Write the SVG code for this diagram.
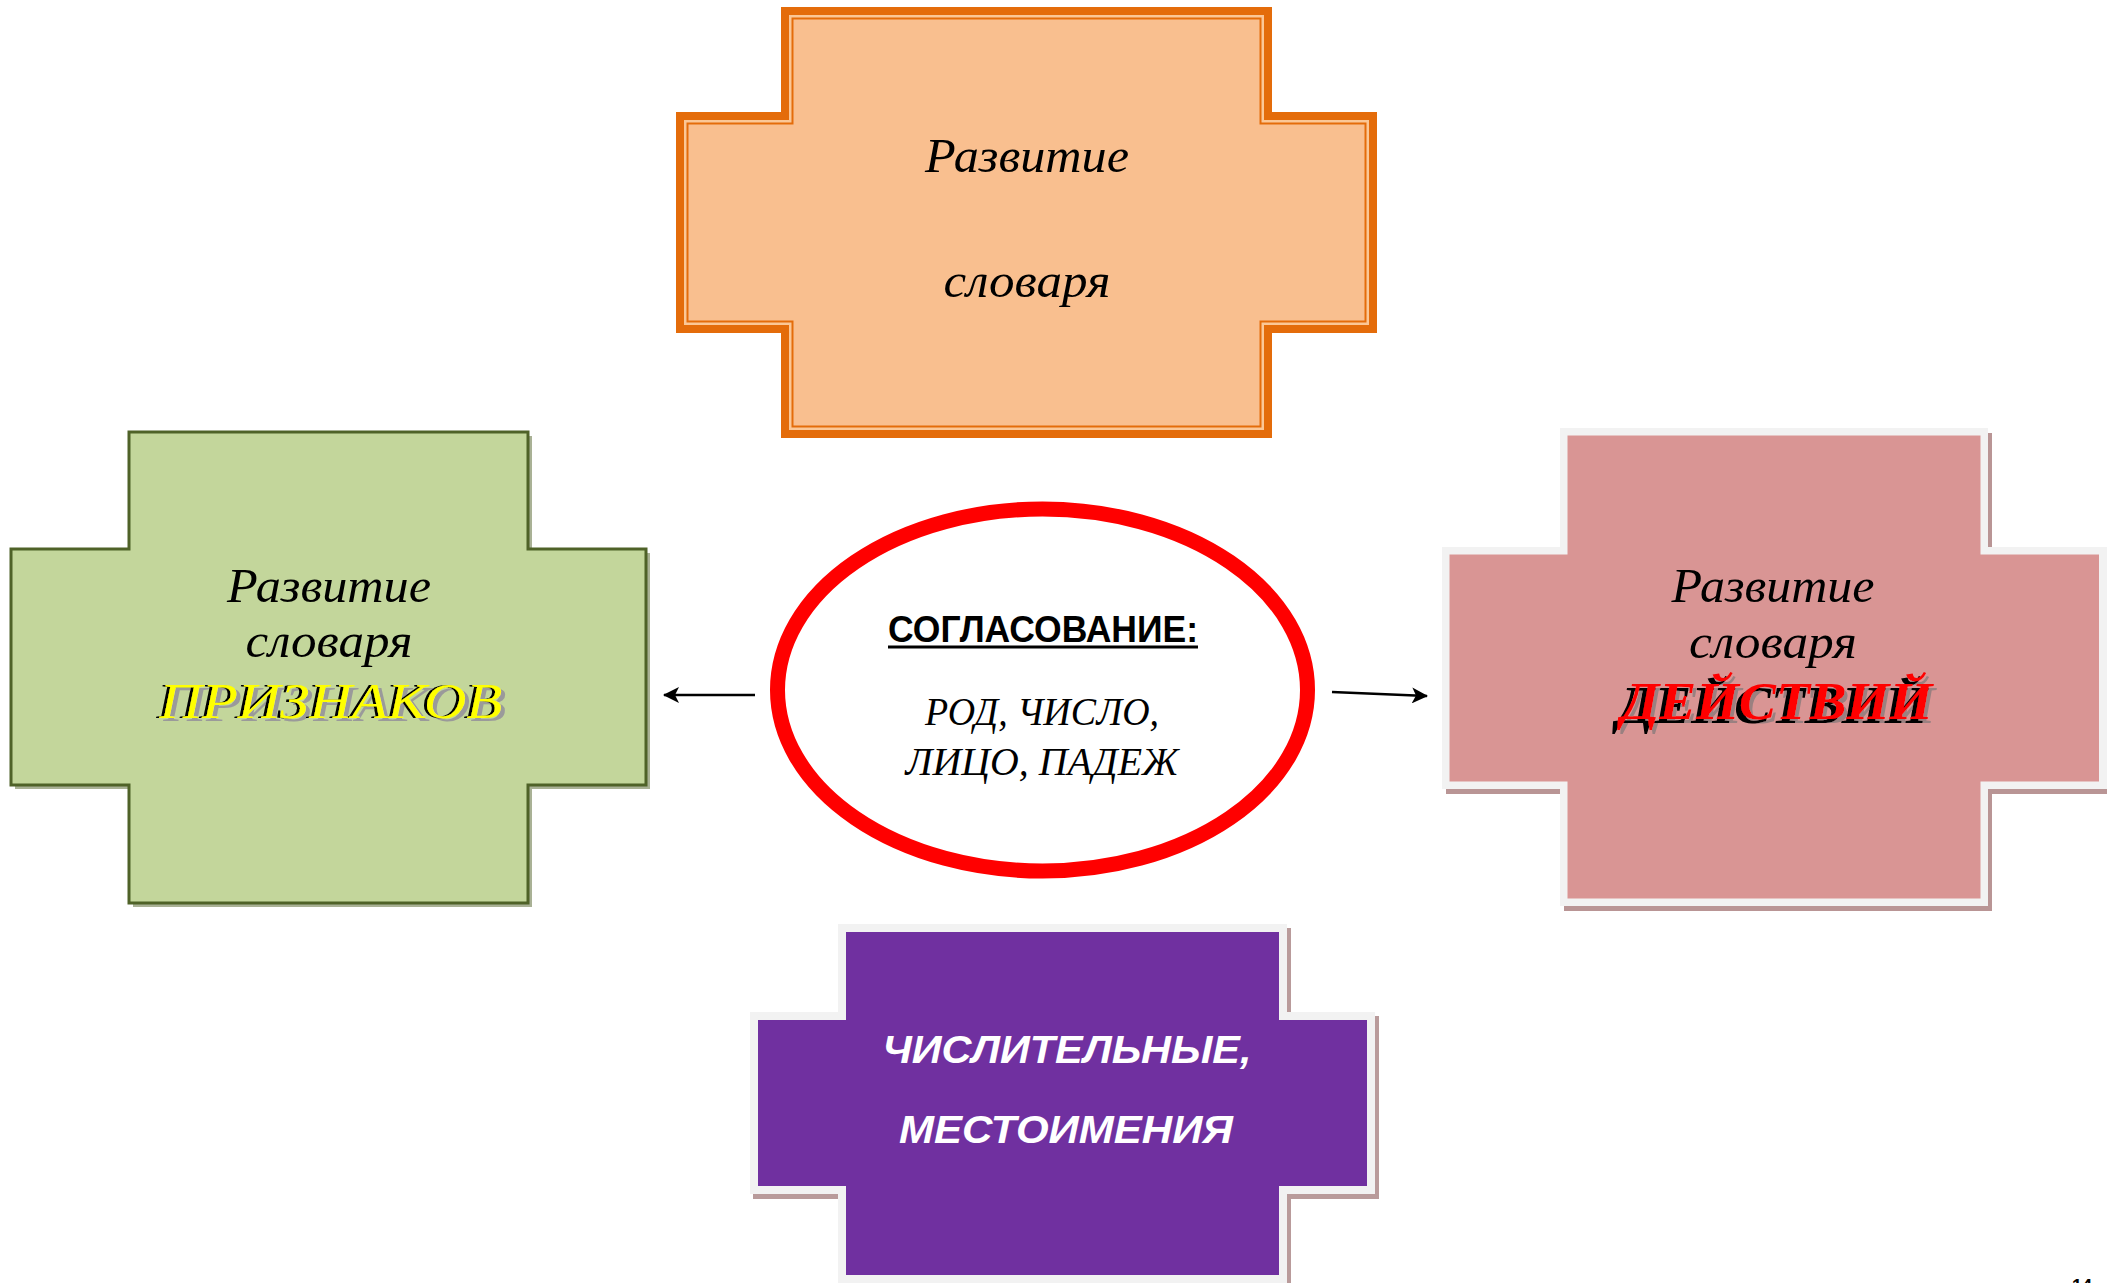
<svg xmlns="http://www.w3.org/2000/svg" width="2107" height="1283" viewBox="0 0 2107 1283">
<style>
.ser{font-family:"Liberation Serif","Times New Roman",serif;font-style:italic;text-anchor:middle}
.lbl{font-size:48px;fill:#000}
.sans{font-family:"Liberation Sans",Arial,sans-serif;text-anchor:middle}
.conn{stroke:#000;stroke-width:2.5;fill:none}
</style>
<defs>
<marker id="ah" viewBox="0 0 16 16" refX="15" refY="8" markerWidth="16" markerHeight="16" markerUnits="userSpaceOnUse" orient="auto">
<path d="M0,0 L16,8 L0,16 L4,8 Z" fill="#000"/>
</marker>
<filter id="fxY" x="-10%" y="-30%" width="120%" height="160%">
<feOffset in="SourceAlpha" dx="4" dy="3" result="o1"/>
<feFlood flood-color="#9A9A9A"/>
<feComposite in2="o1" operator="in" result="gray"/>
<feOffset in="SourceAlpha" dx="-3" dy="0" result="o2"/>
<feFlood flood-color="#000"/>
<feComposite in2="o2" operator="in" result="blk"/>
<feMerge><feMergeNode in="gray"/><feMergeNode in="blk"/><feMergeNode in="SourceGraphic"/></feMerge>
</filter>
<filter id="fxR" x="-10%" y="-30%" width="120%" height="160%">
<feOffset in="SourceAlpha" dx="3" dy="4" result="o1"/>
<feFlood flood-color="#9A8080"/>
<feComposite in2="o1" operator="in" result="gray"/>
<feOffset in="SourceAlpha" dx="-5" dy="4" result="o2"/>
<feFlood flood-color="#000"/>
<feComposite in2="o2" operator="in" result="blk"/>
<feMerge><feMergeNode in="gray"/><feMergeNode in="blk"/><feMergeNode in="SourceGraphic"/></feMerge>
</filter>
</defs>
<rect width="2107" height="1283" fill="#fff"/>

<g id="node-top">
<path d="M781,7 H1272 V112 H1377 V333 H1272 V438 H781 V333 H676 V112 H781 Z" fill="#E46C0A"/>
<path d="M789,15 H1264 V120 H1369 V325 H1264 V430 H789 V325 H684 V120 H789 Z" fill="#FBC796"/>
<path d="M791.5,17.5 H1261.5 V122.5 H1366.5 V322.5 H1261.5 V427.5 H791.5 V322.5 H686.5 V122.5 H791.5 Z" fill="#E46C0A"/>
<path d="M793.5,19.5 H1259.5 V124.5 H1364.5 V320.5 H1259.5 V425.5 H793.5 V320.5 H688.5 V124.5 H793.5 Z" fill="#F9BF8F"/>
<text class="ser lbl" x="1027" y="172" textLength="204" lengthAdjust="spacingAndGlyphs">Развитие</text>
<text class="ser lbl" x="1027" y="297" textLength="167" lengthAdjust="spacingAndGlyphs">словаря</text>
</g>

<g id="node-left">
<path d="M133,436 H532 V553 H650 V789 H532 V907 H133 V789 H15 V553 H133 Z" fill="#A9B195"/>
<path d="M129,432 H528 V549 H646 V785 H528 V903 H129 V785 H11 V549 H129 Z" fill="#C3D69B" stroke="#4F6228" stroke-width="3"/>
<text class="ser lbl" x="329" y="602" textLength="204" lengthAdjust="spacingAndGlyphs">Развитие</text>
<text class="ser lbl" x="329" y="657" textLength="167" lengthAdjust="spacingAndGlyphs">словаря</text>
<text class="ser" x="331" y="718" font-size="51" fill="#FFFF00" filter="url(#fxY)" textLength="343" lengthAdjust="spacingAndGlyphs">ПРИЗНАКОВ</text>
</g>

<g id="node-right">
<path d="M1564,433 H1992 V552 H2111 V794 H1992 V911 H1564 V794 H1446 V552 H1564 Z" fill="#B99595"/>
<path d="M1560,428 H1988 V547 H2107 V789 H1988 V906 H1560 V789 H1442 V547 H1560 Z" fill="#F2F2F2"/>
<path d="M1567.5,435.5 H1980.5 V554.5 H2099 V781.5 H1980.5 V898.5 H1567.5 V781.5 H1449.5 V554.5 H1567.5 Z" fill="#D99594"/>
<text class="ser lbl" x="1773" y="602" textLength="203" lengthAdjust="spacingAndGlyphs">Развитие</text>
<text class="ser lbl" x="1773" y="658" textLength="168" lengthAdjust="spacingAndGlyphs">словаря</text>
<text class="ser" x="1777" y="719" font-size="53" font-weight="bold" fill="#FF0000" filter="url(#fxR)" textLength="311" lengthAdjust="spacingAndGlyphs">ДЕЙСТВИЙ</text>
</g>

<g id="node-bottom">
<path d="M841,928 H1291 V1016 H1379 V1199 H1291 V1290 H841 V1199 H753 V1016 H841 Z" fill="#B99B9B"/>
<path d="M838,924 H1287 V1012 H1375 V1194 H1287 V1290 H838 V1194 H750 V1012 H838 Z" fill="#F2F2F2"/>
<path d="M846,932 H1279 V1020 H1367 V1186 H1279 V1275 H846 V1186 H758 V1020 H846 Z" fill="#7030A0"/>
<text class="sans" x="1067" y="1063" font-size="38" font-weight="bold" font-style="italic" fill="#fff" textLength="369" lengthAdjust="spacingAndGlyphs">ЧИСЛИТЕЛЬНЫЕ,</text>
<text class="sans" x="1066" y="1143" font-size="38" font-weight="bold" font-style="italic" fill="#fff" textLength="334" lengthAdjust="spacingAndGlyphs">МЕСТОИМЕНИЯ</text>
</g>

<g id="node-center">
<ellipse cx="1042.5" cy="690" rx="265" ry="181" fill="#fff" stroke="#FF0000" stroke-width="15"/>
<text class="sans" x="1043" y="642" font-size="37" font-weight="bold" fill="#000" textLength="310" lengthAdjust="spacingAndGlyphs">СОГЛАСОВАНИЕ:</text>
<rect x="888" y="645.5" width="310" height="3" fill="#000"/>
<text class="ser" x="1042" y="725" font-size="41" fill="#000" textLength="234" lengthAdjust="spacingAndGlyphs">РОД, ЧИСЛО,</text>
<text class="ser" x="1042" y="775" font-size="41" fill="#000" textLength="273" lengthAdjust="spacingAndGlyphs">ЛИЦО, ПАДЕЖ</text>
</g>

<g id="connectors">
<line class="conn" x1="755" y1="695" x2="664" y2="695" marker-end="url(#ah)"/>
<line class="conn" x1="1332" y1="692" x2="1427" y2="696" marker-end="url(#ah)"/>
</g>

<text x="2072" y="1292" font-family="Liberation Sans, Arial, sans-serif" font-size="18" font-weight="bold" fill="#000">14</text>
</svg>
